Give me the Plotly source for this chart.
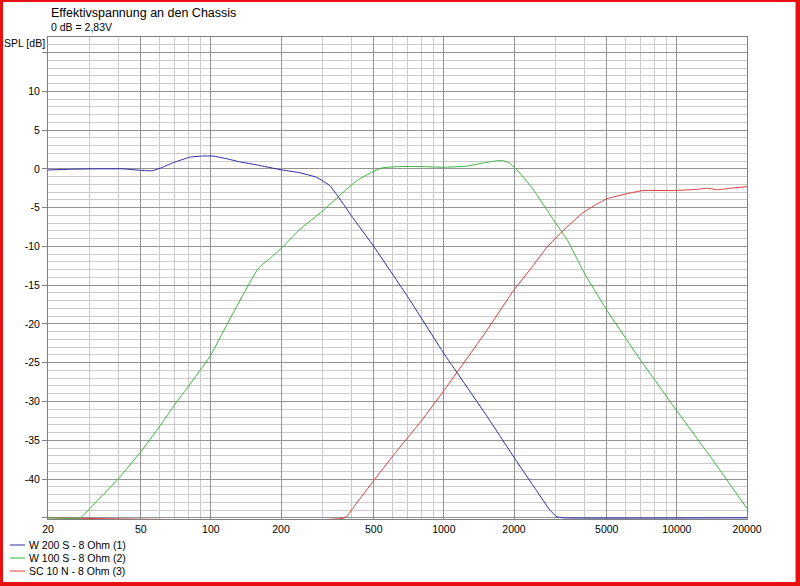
import plotly.graph_objects as go

# ---------------- data ----------------
f_blue = [20, 25, 32, 42, 50, 56, 62, 69, 81, 92, 102, 117, 133, 158, 198, 241, 285, 325, 358,
          400, 500, 700, 1000, 1500, 2000, 2500, 2850, 3050, 3250, 20000]
db_blue = [-0.15, -0.05, 0, 0, -0.2, -0.25, 0.2, 0.8, 1.5, 1.65, 1.65, 1.3, 0.9, 0.5, -0.1, -0.5, -1.1, -2.2, -3.9,
           -6.0, -10.0, -16.5, -23.8, -31.5, -37.2, -41.5, -44.0, -44.85, -45, -45]

f_green = [20, 27.5, 32, 40, 50, 60, 70, 85, 100, 120, 140, 160, 180, 200, 241, 300, 358, 420, 496, 548,
           648, 800, 992, 1257, 1532, 1700, 1800, 1900, 1980, 2100, 2412, 2940, 3377, 4000, 5000, 7000,
           10000, 14000, 20000]
db_green = [-45, -45, -43, -40, -36.5, -33.3, -30.4, -27, -24, -19.5, -15.8, -12.8, -11.5, -10.3, -7.8, -5.5, -3.4,
            -1.6, -0.35, 0.15, 0.3, 0.3, 0.2, 0.35, 0.85, 1.05, 1.05, 0.8, 0.35, -0.4, -2.6, -6.5, -9.1, -13.4,
            -18.2, -24.7, -31.2, -37.2, -43.8]

f_red = [20, 376, 420, 500, 605, 800, 1000, 1500, 2000, 2400, 2771, 3240, 3955, 4500, 5012, 6109, 7160,
         9640, 12190, 13500, 14930, 17000, 20000]
db_red = [-45, -45, -43.2, -40.2, -37.0, -32.5, -28.6, -21.2, -15.6, -12.6, -10.1, -8, -5.65, -4.6, -3.85, -3.2,
          -2.8, -2.8, -2.65, -2.5, -2.7, -2.5, -2.3]

names = ["W 200 S - 8 Ohm (1)", "W 100 S - 8 Ohm (2)", "SC 10 N - 8 Ohm (3)"]
colors = ["#2a2aa8", "#3cb43c", "#dc3c3c"]

x_tickvals = [20, 50, 100, 200, 500, 1000, 2000, 5000, 10000, 20000]
x_ticktext = ["20", "50", "100", "200", "500", "1000", "2000", "5000", "10000", "20000"]
y_tickvals = [-45, -40, -35, -30, -25, -20, -15, -10, -5, 0, 5, 10, 15]
y_ticktext = ["", "-40", "-35", "-30", "-25", "-20", "-15", "-10", "-5", "0", "5", "10", ""]

FONT = "Liberation Sans, Arial, sans-serif"

fig = go.Figure()
# draw order: red, blue, green (green on top of red at the bottom-left)
fig.add_trace(go.Scatter(x=f_red, y=db_red, mode="lines", name=names[2],
                         line=dict(color=colors[2], width=1, shape="spline", smoothing=0.3)))
fig.add_trace(go.Scatter(x=f_blue, y=db_blue, mode="lines", name=names[0],
                         line=dict(color=colors[0], width=1, shape="spline", smoothing=0.3)))
fig.add_trace(go.Scatter(x=f_green, y=db_green, mode="lines", name=names[1],
                         line=dict(color=colors[1], width=1, shape="spline", smoothing=0.3)))

L, R, T, B = 48, 53, 37, 67
W, H = 800, 586
pw, ph = W - L - R, H - T - B


def px(x):
    return (x - L) / pw


def py(y):
    return (H - B - y) / ph


annotations = [
    dict(text="Effektivspannung an den Chassis", x=px(49), y=py(13), xref="paper", yref="paper",
         xanchor="left", yanchor="middle", showarrow=False, font=dict(family=FONT, size=12.5, color="#000")),
    dict(text="0 dB = 2,83V", x=px(49), y=py(27), xref="paper", yref="paper",
         xanchor="left", yanchor="middle", showarrow=False, font=dict(family=FONT, size=10.5, color="#000")),
    dict(text="SPL [dB]", x=px(2), y=py(43), xref="paper", yref="paper",
         xanchor="left", yanchor="middle", showarrow=False, font=dict(family=FONT, size=10.5, color="#000")),
]
shapes = []
legend_rows = [545, 558, 571]
for i in range(3):
    annotations.append(dict(text=names[i], x=px(27), y=py(legend_rows[i]), xref="paper", yref="paper",
                            xanchor="left", yanchor="middle", showarrow=False,
                            font=dict(family=FONT, size=10.5, color="#000")))
    shapes.append(dict(type="line", xref="paper", yref="paper", x0=px(10), x1=px(25),
                       y0=py(legend_rows[i]), y1=py(legend_rows[i]),
                       line=dict(color=colors[i], width=1)))

# red frame around the picture
red = "#e81010"
for (x0, x1, y0, y1) in [(0, 3, 0, H), (795.5, W, 0, H), (0, W, 0, 2), (0, W, 582, H)]:
    shapes.append(dict(type="rect", xref="paper", yref="paper", x0=px(x0), x1=px(x1),
                       y0=py(y1), y1=py(y0), fillcolor=red, line=dict(width=0), layer="above"))

fig.update_layout(
    width=W, height=H,
    margin=dict(l=L, r=R, t=T, b=B, pad=0),
    paper_bgcolor="white", plot_bgcolor="white",
    showlegend=False,
    font=dict(family=FONT, size=10.5, color="#000"),
    annotations=annotations,
    shapes=shapes,
    xaxis=dict(type="log", range=[1.30103, 4.30103], tickmode="array",
               tickvals=x_tickvals, ticktext=x_ticktext, ticks="",
               showgrid=True, gridcolor="#939393", gridwidth=1,
               minor=dict(tickmode="array",
                          tickvals=[30, 40, 60, 70, 80, 90, 300, 400, 600, 700, 800, 900,
                                    3000, 4000, 6000, 7000, 8000, 9000],
                          showgrid=True, gridcolor="#cacaca", gridwidth=1, ticks=""),
               showline=True, linecolor="#808080", mirror=True, zeroline=False,
               tickfont=dict(family=FONT, size=10.5, color="#000")),
    yaxis=dict(range=[-45.15, 17], tickmode="array", tickvals=y_tickvals, ticktext=y_ticktext,
               ticks="outside", ticklen=5, tickcolor="#808080",
               showgrid=True, gridcolor="#939393", gridwidth=1,
               minor=dict(dtick=1, showgrid=True, gridcolor="#cacaca", gridwidth=1, ticks=""),
               showline=True, linecolor="#808080", mirror=True, zeroline=False,
               tickfont=dict(family=FONT, size=10.5, color="#000")),
)

fig.write_html("out.html", config={"displayModeBar": False},
               post_script="document.body.style.margin='0';document.body.style.overflow='hidden';")
